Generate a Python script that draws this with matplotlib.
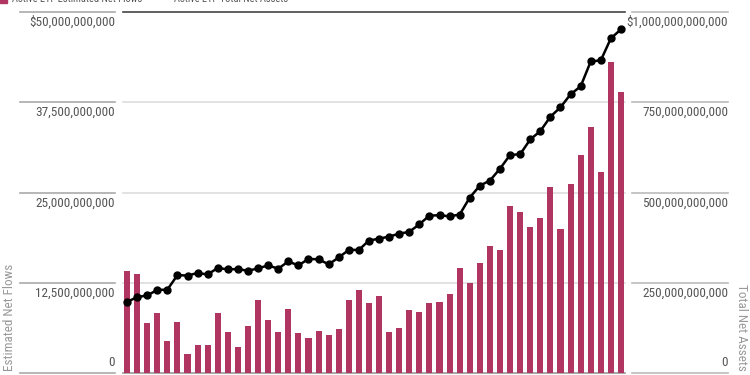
import matplotlib
matplotlib.use('Agg')
import matplotlib.pyplot as plt
import matplotlib.transforms as mtransforms
from matplotlib import font_manager
import numpy as np

# estimated net flows, $ billions
flows = [14.16, 13.7, 6.88, 8.26, 4.43, 7.1, 2.58, 3.88, 3.88, 8.3,
         5.68, 3.6, 6.46, 10.1, 7.29, 5.72, 8.81, 5.58, 4.84, 5.81,
         5.26, 6.14, 10.1, 11.49, 9.64, 10.64, 5.63, 6.27, 8.72, 8.44,
         9.69, 9.78, 10.94, 14.58, 12.41, 15.23, 17.58, 17.07, 23.12, 22.29,
         20.25, 21.41, 25.79, 19.89, 26.16, 30.18, 34.1, 27.78, 43.09, 38.94]
# total net assets, $ billions
assets = [197, 210, 215, 230, 231, 271, 270, 277, 273, 291,
          287, 288, 283, 290, 298, 289, 309, 298, 316, 315,
          301, 320, 341, 341, 367, 372, 378, 386, 391, 412,
          436, 437, 434, 439, 486, 519, 533, 566, 604, 606,
          647, 670, 710, 736, 772, 794, 863, 866, 927, 952]

left_ticks = [0, 12.5e9, 25e9, 37.5e9, 50e9]
left_labels = ['0', '12,500,000,000', '25,000,000,000', '37,500,000,000', '$50,000,000,000']
right_ticks = [0, 250e9, 500e9, 750e9, 1000e9]
right_labels = ['0', '250,000,000,000', '500,000,000,000', '750,000,000,000', '$1,000,000,000,000']

names = {f.name for f in font_manager.fontManager.ttflist}
fam = 'Roboto'
for cand in ['Roboto Condensed', 'Liberation Sans Narrow', 'Open Sans Condensed', 'DejaVu Sans Condensed']:
    if cand in names:
        fam = cand
        break
plt.rcParams['font.family'] = [fam, 'DejaVu Sans']
tick_fs = 9.5 if fam != 'Roboto' else 8.6

bar_color = '#b03560'
text_color = '#555555'

W, H = 750, 375
fig = plt.figure(figsize=(7.5, 3.75), dpi=100)
x0, x1, ybot, ytop = 123, 625, 373, 12
ax = fig.add_axes([x0 / W, (H - ybot) / H, (x1 - x0) / W, (ybot - ytop) / H])
ax2 = ax.twinx()

x = np.arange(len(flows))
ax.bar(x, np.array(flows) * 1e9, width=0.6, color=bar_color, zorder=3)
ax2.plot(x, np.array(assets) * 1e9, color='black', lw=1.8, marker='o',
         markersize=5, zorder=4)

ax.set_xlim(-0.4, len(flows) - 0.6)
ax.set_ylim(0, 50e9)
ax2.set_ylim(0, 1000e9)
for a in (ax, ax2):
    a.set_xticks([])
    a.set_yticks([])
    for s in a.spines.values():
        s.set_visible(False)
ax2.set_zorder(ax.get_zorder() + 1)
ax2.patch.set_visible(False)

trans_l = mtransforms.blended_transform_factory(ax.transAxes, ax.transData)
trans_r = mtransforms.blended_transform_factory(ax2.transAxes, ax2.transData)
pxw = 1.0 / (x1 - x0)
gap_l = 4 * 50e9 / (ybot - ytop)      # 4 px in left data units
gap_r = 4 * 1000e9 / (ybot - ytop)

for i, (t, lab) in enumerate(zip(left_ticks, left_labels)):
    if i == 0:
        gc = '#999999'
    elif i == len(left_ticks) - 1:
        gc = '#444444'
    else:
        gc = '#dddddd'
    ax.plot([0, 1], [t, t], color=gc, lw=1.2, transform=trans_l, zorder=1, clip_on=False)
    ax.plot([(20 - x0) * pxw, (115 - x0) * pxw], [t, t], color='#aaaaaa', lw=1.2,
            transform=trans_l, clip_on=False)
    if i == 0:
        ax.text((115 - x0) * pxw, t + gap_l, lab, transform=trans_l, ha='right',
                va='bottom', fontsize=tick_fs, color=text_color)
    else:
        ax.text((115 - x0) * pxw, t - gap_l, lab, transform=trans_l, ha='right',
                va='top', fontsize=tick_fs, color=text_color)

for i, (t, lab) in enumerate(zip(right_ticks, right_labels)):
    ax2.plot([(632 - x0) * pxw, (728 - x0) * pxw], [t, t], color='#bbbbbb', lw=1.2,
             transform=trans_r, clip_on=False)
    if i == 0:
        ax2.text((728 - x0) * pxw, t + gap_r, lab, transform=trans_r, ha='right',
                 va='bottom', fontsize=tick_fs, color=text_color)
    else:
        ax2.text((728 - x0) * pxw, t - gap_r, lab, transform=trans_r, ha='right',
                 va='top', fontsize=tick_fs, color=text_color)

fig.text(10 / W, (H - 371) / H, 'Estimated Net Flows', rotation=90, ha='center',
         va='bottom', fontsize=tick_fs, color='#999999')
fig.text(741 / W, (H - 371) / H, 'Total Net Assets', rotation=270, ha='center',
         va='bottom', fontsize=tick_fs, color='#999999')

# legend, mostly cut off at the top edge
ly = (H - 1.5) / H
fig.patches.append(plt.Rectangle((0, ly - 1 / H), 7 / W, 9 / H, transform=fig.transFigure,
                                 color=bar_color, figure=fig))
fig.text(12 / W, ly, 'Active ETF Estimated Net Flows', ha='left', va='baseline',
         fontsize=7.5, color=text_color)
fig.lines.append(plt.Line2D([152 / W, 168 / W], [ly + 3 / H, ly + 3 / H],
                            transform=fig.transFigure, color='black', lw=1.8))
fig.text(174 / W, ly, 'Active ETF Total Net Assets', ha='left', va='baseline',
         fontsize=7.5, color=text_color)

fig.savefig('out.png', dpi=100)
